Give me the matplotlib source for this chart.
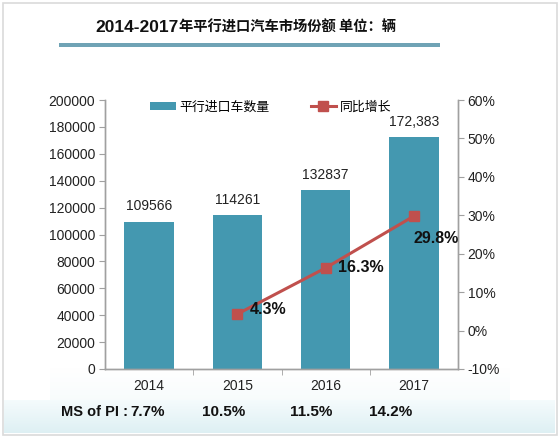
import matplotlib
matplotlib.use("Agg")
import matplotlib.pyplot as plt
import numpy as np
from matplotlib.patches import Rectangle

plt.rcParams['font.family'] = ['Liberation Sans', 'Noto Sans CJK SC', 'DejaVu Sans']

years = ['2014', '2015', '2016', '2017']
volumes = [109566, 114261, 132837, 172383]
volume_labels = ['109566', '114261', '132837', '172,383']
growth_years = [1, 2, 3]
growth = [4.3, 16.3, 29.8]
growth_labels = ['4.3%', '16.3%', '29.8%']
ms_of_pi = ['7.7%', '10.5%', '11.5%', '14.2%']
left_ticks = list(range(0, 200001, 20000))
right_ticks = list(range(-10, 61, 10))

title_num = '2014-2017'
title_rest = '年平行进口汽车市场份额 单位：辆'
bar_name = '平行进口车数量'
line_name = '同比增长'
ms_label = 'MS of PI :'

W, H = 559, 437
fig = plt.figure(figsize=(W / 100, H / 100), dpi=100)
fig.patch.set_facecolor('white')

def fx(px):
    return px / W

def fy(py):
    return 1 - py / H

# background decorations
bg = fig.add_axes([0, 0, 1, 1], zorder=-10)
bg.set_xlim(0, W)
bg.set_ylim(H, 0)
bg.axis('off')
grad1 = np.linspace(0, 1, 50).reshape(-1, 1)
bg.imshow(np.dstack([np.full_like(grad1, 0.965), np.full_like(grad1, 0.985), np.full_like(grad1, 0.99), grad1 * 0.8]),
          extent=[50, 510, 400, 368], aspect='auto', interpolation='bilinear')
grad = np.linspace(0, 1, 50).reshape(-1, 1)
r = 0.96 - 0.09 * grad
g = 0.985 - 0.045 * grad
b = 0.99 - 0.035 * grad
bg.imshow(np.dstack([r, g, b]), extent=[4, 555, 433, 400], aspect='auto', interpolation='bilinear')
bg.add_patch(Rectangle((2.5, 2.5), W - 5, H - 5, fill=False, edgecolor='#DADADA', lw=1.2))
bg.add_patch(Rectangle((59, 43), 381, 4, facecolor='#6FA3B5', edgecolor='none'))

# title in two parts (digits larger than CJK)
renderer = fig.canvas.get_renderer()
t1 = fig.text(fx(95), fy(28), title_num, ha='left', va='center', fontsize=12.5, fontweight='bold',
              family=['Liberation Sans'], color='#111111')
bb = t1.get_window_extent(renderer=renderer)
fig.text(bb.x1 / W + fx(1), fy(28), title_rest, ha='left', va='center', fontsize=10.3, fontweight='bold',
         family=['Noto Sans CJK SC'], color='#111111')

ax = fig.add_axes([fx(105), fy(369), fx(458) - fx(105), fy(100) - fy(369)])
ax2 = ax.twinx()
ax.set_zorder(1)
ax2.set_zorder(2)
ax.patch.set_visible(False)
ax2.patch.set_visible(False)

x = np.arange(len(years))
bar_color = '#4498B0'
ax.bar(x, volumes, width=0.56, color=bar_color, label=bar_name, zorder=2)
ax.set_xlim(-0.5, 3.5)
ax.set_ylim(0, 200000)
ax.set_yticks(left_ticks)
ax.set_yticklabels([str(t) for t in left_ticks])
ax.set_xticks(x)
ax.set_xticklabels(years)
ax.set_xticks([0.5, 1.5, 2.5], minor=True)
ax.tick_params(axis='x', which='major', length=0, pad=7, labelsize=10, colors='#222222')
ax.tick_params(axis='x', which='minor', length=4, direction='out', color='#A0A0A0')
ax.tick_params(axis='y', length=4, direction='out', color='#A0A0A0', labelsize=10, labelcolor='#222222', pad=3)

for i, (v, lab) in enumerate(zip(volumes, volume_labels)):
    ax.annotate(lab, (x[i], v), xytext=(0, 6), textcoords='offset points', ha='center', va='bottom',
                fontsize=10, color='#222222')

line_color = '#C0504D'
ax2.plot(growth_years, growth, color=line_color, lw=2.2, marker='s', markersize=7, label=line_name, zorder=3)
ax2.set_ylim(-10, 60)
ax2.set_yticks(right_ticks)
ax2.set_yticklabels([f'{t}%' for t in right_ticks])
ax2.tick_params(axis='y', length=4, direction='out', color='#A0A0A0', labelsize=10, labelcolor='#222222', pad=3)

offsets = [(9, 3), (9, 0), (0, -16)]
for xi, gv, lab, off in zip(growth_years, growth, growth_labels, offsets):
    ax2.annotate(lab, (xi, gv), xytext=off, textcoords='offset points', ha='left', va='center',
                 fontsize=11.5, fontweight='bold', color='#111111')

for a in (ax, ax2):
    a.spines['top'].set_visible(False)
    for s in ['left', 'right', 'bottom']:
        a.spines[s].set_color('#A0A0A0')
        a.spines[s].set_linewidth(1.0)

h1, l1 = ax.get_legend_handles_labels()
h2, l2 = ax2.get_legend_handles_labels()
ax2.legend(h1 + h2, l1 + l2, loc='center left', bbox_to_anchor=(fx(150), fy(107)), bbox_transform=fig.transFigure,
           ncol=2, frameon=False, borderpad=0, borderaxespad=0, columnspacing=3.2, handlelength=2.0,
           handletextpad=0.25, handleheight=0.6, prop={'family': ['Noto Sans CJK SC'], 'size': 9.3})

# MS of PI row
fig.text(fx(61), fy(412), ms_label, ha='left', va='center', fontsize=10.5, fontweight='bold', color='#111111')
ms_x = [148, 224, 311, 391]
for px, s in zip(ms_x, ms_of_pi):
    fig.text(fx(px), fy(412), s, ha='center', va='center', fontsize=11, fontweight='bold', color='#111111')

fig.savefig('out.png', dpi=100)
